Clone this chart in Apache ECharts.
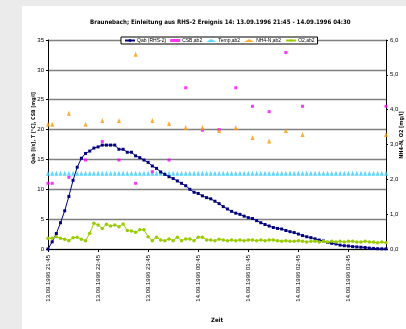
<!DOCTYPE html>
<html>
<head>
<meta charset="utf-8">
<script src="https://cdn.jsdelivr.net/npm/echarts@6/dist/echarts.min.js"></script>
<style>
html,body{margin:0;padding:0;background:#ebebeb;width:406px;height:329px;overflow:hidden;}
#c{position:absolute;left:22px;top:6px;width:384px;height:323px;background:#fff;}
</style>
</head>
<body>
<div id="c"></div>
<script>
// 5-minute time stamps from 13.09.1996 21:45 to 14.09.1996 04:30
const nPoints = 82;
const categories = [];
(function(){
  let d = 13, h = 21, m = 45;
  for (let i = 0; i < nPoints; i++) {
    categories.push((d < 10 ? '0' : '') + d + '.09.1996 ' + (h < 10 ? '0' : '') + h + ':' + (m < 10 ? '0' : '') + m);
    m += 5; if (m >= 60) { m -= 60; h += 1; if (h >= 24) { h = 0; d += 1; } }
  }
})();

const qab = [0,1.2,2.6,4.4,6.4,8.8,11.5,13.7,15.2,16.0,16.4,16.9,17.1,17.4,17.4,17.4,17.4,16.7,16.7,16.2,
  16.2,15.6,15.3,14.9,14.5,13.9,13.5,12.9,12.5,12.1,11.8,11.4,11.0,10.6,10.0,9.5,9.3,8.9,8.6,8.4,
  8.0,7.6,7.1,6.7,6.3,6.0,5.8,5.5,5.25,5.1,4.75,4.4,4.1,3.85,3.6,3.45,3.35,3.1,2.9,2.75,
  2.5,2.25,2.05,1.9,1.7,1.5,1.35,1.1,0.95,0.85,0.65,0.55,0.5,0.4,0.35,0.3,0.25,0.15,0.1,0.05,
  0.03,0.02];

const temp = [12.7,12.7,12.7,12.7,12.7,12.7,12.7,12.7,12.7,12.7,12.7,12.7,12.7,12.7,12.7,12.7,12.7,12.7,12.7,12.7,
  12.7,12.7,12.7,12.7,12.7,12.7,12.7,12.7,12.7,12.7,12.7,12.7,12.7,12.7,12.7,12.7,12.7,12.7,12.7,12.7,
  12.7,12.7,12.7,12.7,12.7,12.7,12.7,12.7,12.7,12.7,12.7,12.7,12.7,12.7,12.7,12.7,12.7,12.7,12.7,12.7,
  12.7,12.7,12.7,12.7,12.7,12.7,12.7,12.7,12.7,12.7,12.7,12.7,12.7,12.7,12.7,12.7,12.7,12.7,12.7,12.7,
  12.7,12.7];

const o2 = [0.31,0.31,0.35,0.31,0.28,0.24,0.32,0.34,0.28,0.24,0.45,0.74,0.69,0.59,0.71,0.66,0.69,0.64,0.72,0.53,
  0.52,0.48,0.55,0.55,0.35,0.24,0.34,0.26,0.24,0.29,0.24,0.34,0.24,0.29,0.29,0.24,0.34,0.34,0.26,0.26,
  0.24,0.28,0.26,0.24,0.26,0.24,0.26,0.24,0.26,0.26,0.24,0.26,0.24,0.26,0.26,0.24,0.22,0.24,0.22,0.22,
  0.24,0.22,0.20,0.22,0.22,0.20,0.22,0.20,0.22,0.20,0.22,0.20,0.22,0.22,0.20,0.20,0.22,0.20,0.20,0.18,
  0.20,0.18];

// sparse lab samples: [index of 5-min step, value]
const csbIdx = [0,1,5,9,13,17,21,25,29,33,37,41,45,49,53,57,61,81];
const csbVal = [11.0,11.0,12.0,14.9,18.0,14.9,11.0,12.95,14.9,27.0,19.9,20.0,27.0,23.9,23.0,32.9,23.9,23.9];
const nh4Idx = [0,1,5,9,13,17,21,25,29,33,37,41,45,49,53,57,61,81];
const nh4Val = [3.58,3.58,3.90,3.58,3.69,3.69,5.59,3.69,3.60,3.49,3.49,3.40,3.49,3.20,3.10,3.40,3.29,3.29];

const leftTicks = {min:0, max:35, interval:5};
const rightTicks = {min:0, max:6, interval:1};

function sparse(idx, val){
  const arr = new Array(nPoints).fill(null);
  idx.forEach((k,i)=>{ arr[k] = val[i]; });
  return arr;
}

const FF = 'Liberation Sans';
const FC = "'DejaVu Sans Condensed', 'Liberation Sans', sans-serif";
const chart = echarts.init(document.getElementById('c'), null, {renderer:'canvas'});
chart.setOption({
  animation:false,
  backgroundColor:'#ffffff',
  title:{
    text:'Braunebach; Einleitung aus RHS-2 Ereignis 14: 13.09.1996 21:45 - 14.09.1996 04:30',
    left:68, top:13, padding:0,
    textStyle:{fontFamily:FC, fontSize:6.1, fontWeight:'bold', color:'#000'}
  },
  legend:{
    left:99, top:31, padding:[1,3], itemGap:4, itemWidth:10, itemHeight:3,
    borderColor:'#000', borderWidth:1, backgroundColor:'#fff',
    textStyle:{fontFamily:FF, fontSize:5, color:'#000', padding:[0,0,0,-3]},
    data:['Qab (RHS-2)','CSB,ab2','Temp,ab2','NH4-N,ab2','O2,ab2']
  },
  grid:{left:26, right:20, top:34, bottom:80, outerBoundsMode:'none'},
  xAxis:{
    type:'category', data:categories, boundaryGap:false,
    name:'Zeit', nameLocation:'middle', nameGap:68, nameMoveOverlap:false,
    nameTextStyle:{fontFamily:FC, fontSize:6, fontWeight:'bold', color:'#000'},
    axisLine:{lineStyle:{color:'#000', width:1}},
    axisTick:{interval:11, length:3, lineStyle:{color:'#000'}},
    axisLabel:{interval:11, rotate:90, fontFamily:FF, fontSize:6, color:'#000', margin:6},
    splitLine:{show:false}
  },
  yAxis:[
    {type:'value', min:leftTicks.min, max:leftTicks.max, interval:leftTicks.interval,
     name:'Qab [l/s], T [°C], CSB [mg/l]', nameLocation:'middle', nameGap:12, nameRotate:90, nameMoveOverlap:false,
     nameTextStyle:{fontFamily:FC, fontSize:5.2, fontWeight:'bold', color:'#000', padding:[0,0,0,33]},
     axisLine:{show:true, lineStyle:{color:'#000', width:1}},
     axisTick:{show:true, length:2, lineStyle:{color:'#000'}},
     axisLabel:{fontFamily:FF, fontSize:6, color:'#000', margin:4},
     splitLine:{show:true, lineStyle:{color:'#7f7f7f', width:1.4}}
    },
    {type:'value', position:'right', min:rightTicks.min, max:rightTicks.max, interval:rightTicks.interval,
     name:'NH4-N, O2 [mg/l]', nameLocation:'middle', nameGap:13, nameRotate:90, nameMoveOverlap:false,
     nameTextStyle:{fontFamily:FC, fontSize:5.5, fontWeight:'bold', color:'#000', padding:[0,0,0,19]},
     axisLine:{show:true, lineStyle:{color:'#000', width:1}},
     axisTick:{show:true, length:2, lineStyle:{color:'#000'}},
     axisLabel:{fontFamily:FF, fontSize:6, color:'#000', margin:4,
       formatter:v=>v.toFixed(1).replace('.',',')},
     splitLine:{show:false}
    }
  ],
  series:[
    {name:'Qab (RHS-2)', type:'line', data:qab, yAxisIndex:0, symbol:'rect', symbolSize:3, showSymbol:true, showAllSymbol:true,
     lineStyle:{color:'#000080', width:1}, itemStyle:{color:'#000080'}, z:3},
    {name:'CSB,ab2', type:'scatter', data:sparse(csbIdx,csbVal), yAxisIndex:0, symbol:'rect', symbolSize:3,
     itemStyle:{color:'#ff00ff'}, z:4},
    {name:'Temp,ab2', type:'scatter', data:temp, yAxisIndex:0, symbol:'triangle', symbolSize:[4,5],
     itemStyle:{color:'#33ccff'}, z:2},
    {name:'NH4-N,ab2', type:'scatter', data:sparse(nh4Idx,nh4Val), yAxisIndex:1, symbol:'triangle', symbolSize:[4,5],
     itemStyle:{color:'#ff9900'}, z:4},
    {name:'O2,ab2', type:'line', data:o2, yAxisIndex:1, symbol:'circle', symbolSize:3.5, showSymbol:true, showAllSymbol:true,
     lineStyle:{color:'#99cc00', width:1}, itemStyle:{color:'#99cc00'}, z:3}
  ]
});
</script>
</body>
</html>
